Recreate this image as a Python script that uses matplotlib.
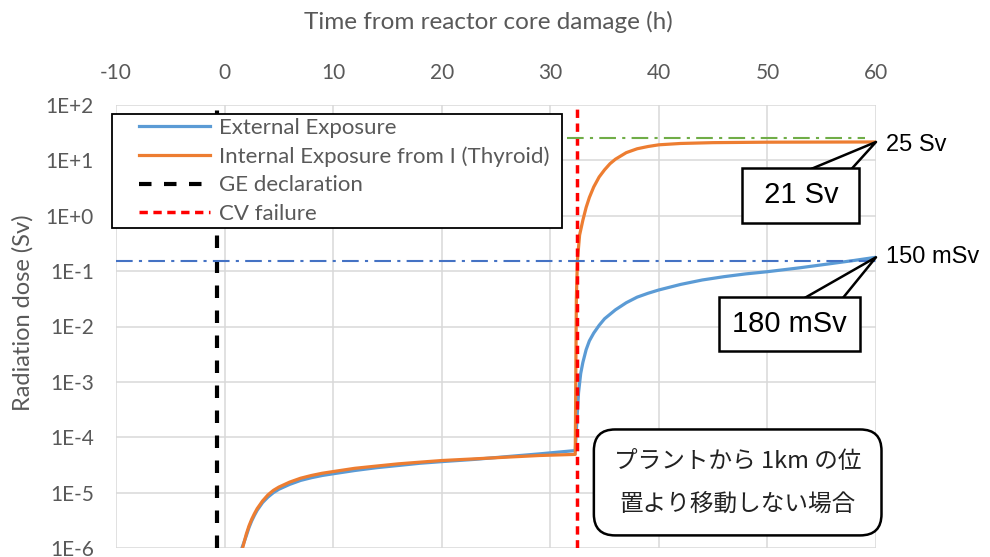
import numpy as np
import matplotlib.pyplot as plt
from matplotlib.patches import Rectangle

# dose curves: time from core damage (h), dose (Sv)
t_ext = [1.6, 2.0, 2.25, 2.5, 2.75, 3.0, 3.5, 4.0, 4.5, 5.0, 6.0, 7.0, 8.0, 9.0, 10,
         12, 14, 16, 18, 20, 23, 26, 29, 32.3,
         32.45, 32.6, 32.8, 33.0, 33.3, 33.6, 34.0, 34.5, 35.0, 36.0, 37.0, 38.0, 39.0,
         40, 42, 44, 46, 48, 50, 53, 56, 58, 60]
dose_ext = [1.0e-6, 1.66e-6, 2.34e-6, 3.09e-6, 3.89e-6, 4.79e-6, 6.61e-6, 8.32e-6,
            1.0e-5, 1.15e-5, 1.41e-5, 1.66e-5, 1.86e-5, 2.04e-5, 2.19e-5, 2.51e-5,
            2.82e-5, 3.09e-5, 3.39e-5, 3.63e-5, 3.98e-5, 4.47e-5, 5.01e-5, 5.75e-5,
            2.0e-4, 6.3e-4, 1.41e-3, 2.24e-3, 3.8e-3, 5.5e-3, 7.6e-3, 0.0105, 0.0138,
            0.020, 0.0269, 0.0339, 0.0398, 0.0457, 0.0575, 0.0692, 0.0794, 0.0891,
            0.0977, 0.115, 0.138, 0.156, 0.178]

t_int = [1.66, 2.0, 2.25, 2.5, 2.75, 3.0, 3.5, 4.0, 4.5, 5.0, 6.0, 7.0, 8.0, 9.0, 10,
         12, 14, 16, 18, 20, 23, 26, 29, 32.3,
         32.4, 32.5, 32.7, 33.0, 33.3, 33.6, 34.0, 34.5, 35.0, 35.5, 36.0, 37.0, 38.0,
         39.0, 40, 42, 45, 50, 55, 60]
dose_int = [1.0e-6, 1.78e-6, 2.51e-6, 3.31e-6, 4.17e-6, 5.13e-6, 7.08e-6, 9.12e-6,
            1.10e-5, 1.26e-5, 1.55e-5, 1.82e-5, 2.04e-5, 2.24e-5, 2.40e-5, 2.75e-5,
            3.02e-5, 3.31e-5, 3.55e-5, 3.80e-5, 4.07e-5, 4.37e-5, 4.68e-5, 4.90e-5,
            0.0316, 0.158, 0.447, 0.83, 1.41, 2.14, 3.31, 5.01, 6.76, 8.71, 10.5, 13.8,
            16.2, 17.8, 19.1, 20.2, 20.9, 21.3, 21.4, 21.5]

t_ge = -0.7      # GE declaration
t_cv = 32.45     # CV failure
limit_int = 25.0
limit_int_span = [31.5, 59.0]
limit_ext = 0.15

x_ticks = [-10, 0, 10, 20, 30, 40, 50, 60]
y_ticks = [1e-6, 1e-5, 1e-4, 1e-3, 1e-2, 1e-1, 1e0, 1e1, 1e2]
y_ticklabels = ['1E-6', '1E-5', '1E-4', '1E-3', '1E-2', '1E-1', '1E+0', '1E+1', '1E+2']

grey = '#595959'
plt.rcParams['font.family'] = ['Lato', 'DejaVu Sans']
plt.rcParams['axes.unicode_minus'] = False

fig = plt.figure(figsize=(9.9, 5.57), dpi=100)
ax = fig.add_axes([116/990, 1-548/557, 760/990, 443/557])

ax.set_yscale('log')
ax.plot(t_ext, dose_ext, color='#5b9bd5', lw=2.3, label='External Exposure')
ax.plot(t_int, dose_int, color='#ed7d31', lw=2.3, label='Internal Exposure from I (Thyroid)')
ax.axvline(t_ge, color='black', lw=3, dashes=(3, 3), label='GE declaration')
ax.axvline(t_cv, color='red', lw=2.5, dashes=(2.4, 1.6), label='CV failure')

ax.plot(limit_int_span, [limit_int, limit_int], color='#70ad47', lw=1.5,
        dashes=(8, 3, 1.5, 3))
ax.axhline(limit_ext, color='#4472c4', lw=1.5, dashes=(8, 3, 1.5, 3))

ax.set_xlim(-10, 60)
ax.set_ylim(1e-6, 1e2)
ax.set_xticks(x_ticks)
ax.set_yticks(y_ticks)
ax.set_yticklabels(y_ticklabels)
ax.minorticks_off()
ax.xaxis.tick_top()
ax.tick_params(axis='x', length=0, pad=15.5, labelsize=15, labelcolor=grey)
ax.tick_params(axis='y', length=0, pad=16, labelsize=15, labelcolor=grey)
ax.grid(True, color='#d9d9d9', lw=1.1)
ax.set_axisbelow(True)
for s in ax.spines.values():
    s.set_visible(False)

fig.text(0.493, 1-22/557, 'Time from reactor core damage (h)', ha='center', va='center',
         fontsize=17.5, color=grey)
fig.text(23/990, 1-313/557, 'Radiation dose (Sv)', ha='center', va='center',
         rotation=90, fontsize=17, color=grey)

# legend with a hand-drawn frame
fig.patches.append(Rectangle((112/990, 1-228/557), 450/990, 114/557,
                             transform=fig.transFigure, fc='white', ec='black', lw=1.3,
                             zorder=5))
handles, labels = ax.get_legend_handles_labels()
leg = fig.legend(handles, labels, loc='upper left', bbox_to_anchor=(139/990, 1-118/557),
                 frameon=False, fontsize=16, handlelength=3.2, handletextpad=0.4,
                 borderpad=0, borderaxespad=0, labelspacing=0.38)
leg.set_zorder(6)
for txt in leg.get_texts():
    txt.set_color(grey)

# callouts
wedge = dict(arrowstyle='wedge,tail_width=1.05,shrink_factor=0.5', fc='white',
             ec='black', lw=1.8, shrinkA=0, shrinkB=0, patchA=None, relpos=(0.71, 1.0))
ax.annotate(' 21 Sv ', xy=(60, dose_int[-1]), xytext=(-54, -38.5),
            textcoords='offset points', ha='center', va='center',
            fontsize=21, family='Liberation Sans', annotation_clip=False,
            bbox=dict(boxstyle='square,pad=0.45', fc='white', ec='black', lw=1.8),
            arrowprops=wedge, zorder=7)
ax.annotate('180 mSv', xy=(60, dose_ext[-1]), xytext=(-62.3, -48.2),
            textcoords='offset points', ha='center', va='center',
            fontsize=21, family='Liberation Sans', annotation_clip=False,
            bbox=dict(boxstyle='square,pad=0.45', fc='white', ec='black', lw=1.8),
            arrowprops=wedge, zorder=7)

ax.annotate('25 Sv', xy=(60, limit_int), xytext=(7, -5), textcoords='offset points',
            ha='left', va='center', fontsize=17, family='Liberation Sans',
            annotation_clip=False)
ax.annotate('150 mSv', xy=(60, limit_ext), xytext=(7, 3), textcoords='offset points',
            ha='left', va='center', fontsize=17, family='Liberation Sans',
            annotation_clip=False)

ax.text(0.818, 0.148, 'プラントから 1km の位\n置より移動しない場合', transform=ax.transAxes,
        ha='center', va='center', fontsize=17, linespacing=2.1, color='#222222',
        family=['Noto Sans CJK JP', 'DejaVu Sans'], zorder=8,
        bbox=dict(boxstyle='round,pad=0.85,rounding_size=0.9', fc='white', ec='black', lw=1.8))

fig.savefig('out.png', dpi=100)
